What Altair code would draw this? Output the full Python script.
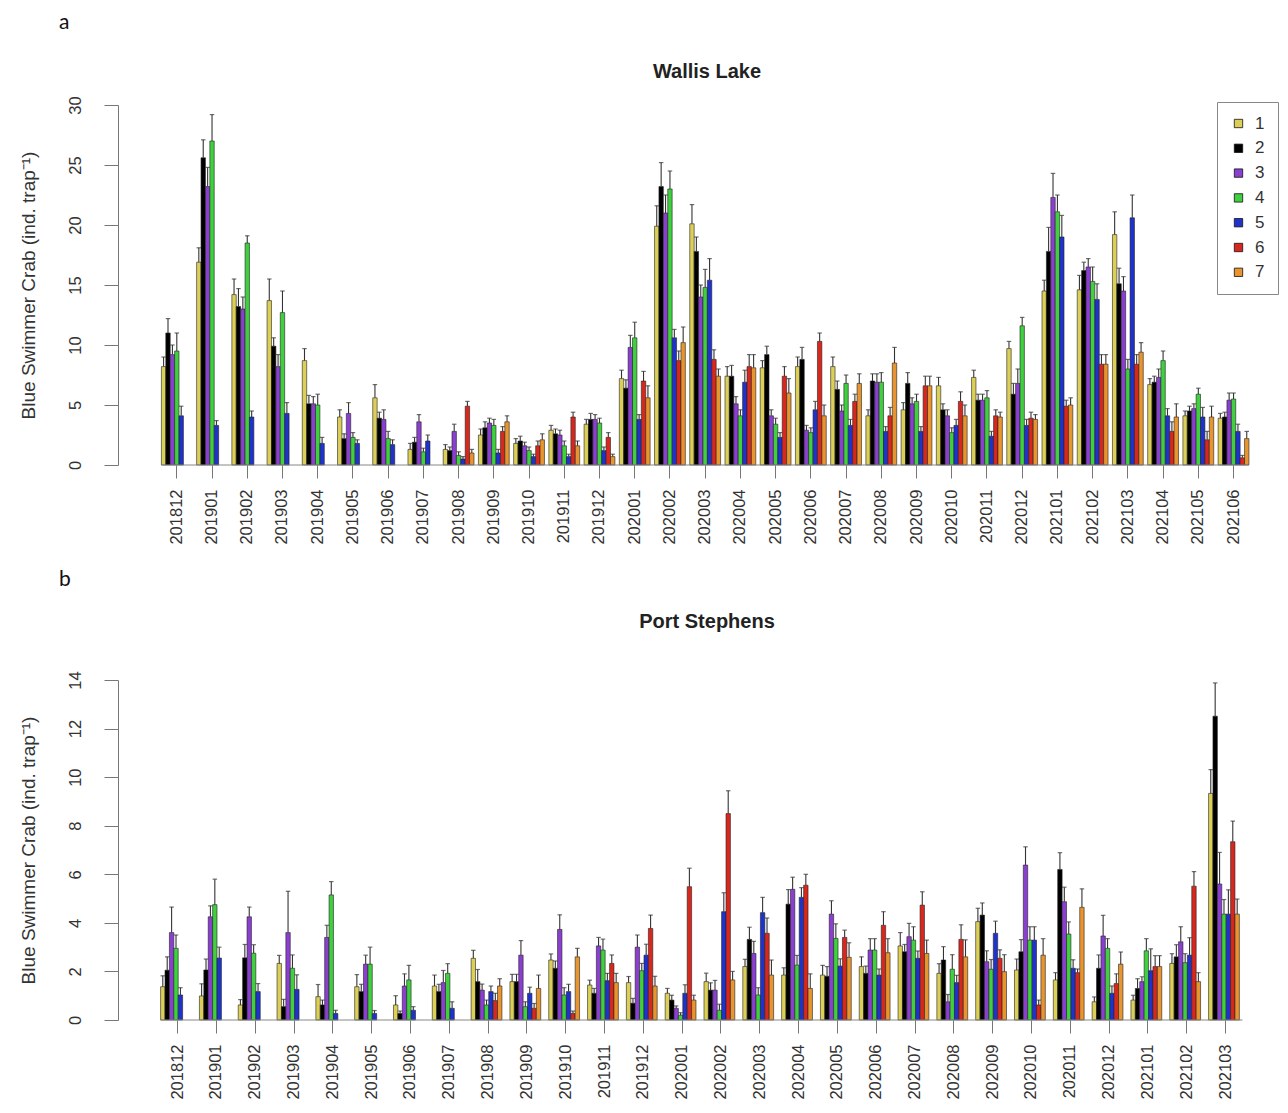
import altair as alt
import pandas as pd

sites = ["1", "2", "3", "4", "5", "6", "7"]
site_colors = ["#DCCF58", "#000000", "#8B3FD0", "#3FCF3F", "#1F33CC", "#D8281E", "#E8952F"]

months_wl = ["201812", "201901", "201902", "201903", "201904", "201905", "201906", "201907",
             "201908", "201909", "201910", "201911", "201912", "202001", "202002", "202003",
             "202004", "202005", "202006", "202007", "202008", "202009", "202010", "202011",
             "202012", "202101", "202102", "202103", "202104", "202105", "202106"]
months_ps = months_wl[:28]

# ---- Wallis Lake: mean catch per site (31 months) ----
wl_s1 = [8.2, 16.9, 14.2, 13.7, 8.7, 4.0, 5.6, 1.3, 1.3, 2.5, 1.8, 2.9, 3.4, 7.2, 19.9, 20.1,
         7.4, 8.1, 8.2, 8.2, 4.1, 4.6, 6.6, 7.3, 9.7, 14.5, 14.6, 19.2, 6.7, 4.1, 3.9]
wl_s2 = [11.0, 25.6, 13.2, 9.9, 5.1, 2.2, 3.9, 1.9, 1.2, 3.1, 2.0, 2.6, 3.8, 6.4, 23.2, 17.8,
         7.4, 9.2, 8.8, 6.3, 7.0, 6.8, 4.6, 5.4, 5.9, 17.8, 16.2, 15.1, 6.9, 4.5, 4.0]
wl_s3 = [9.2, 23.2, 13.0, 8.2, 5.1, 4.3, 3.8, 3.6, 2.8, 3.5, 1.6, 2.5, 3.8, 9.8, 21.0, 14.0,
         5.1, 4.1, 2.9, 4.5, 6.9, 5.1, 4.1, 5.4, 6.8, 22.3, 16.5, 14.5, 7.3, 4.7, 5.4]
wl_s4 = [9.5, 27.0, 18.5, 12.7, 5.0, 2.3, 2.2, 1.1, 0.8, 3.3, 1.2, 1.6, 3.5, 10.6, 23.0, 14.8,
         4.1, 3.4, 2.7, 6.8, 6.9, 5.3, 2.7, 5.6, 11.6, 21.1, 15.3, 8.0, 8.7, 5.9, 5.5]
wl_s5 = [4.1, 3.3, 4.0, 4.3, 1.8, 1.8, 1.7, 2.0, 0.5, 1.0, 0.7, 0.7, 1.2, 3.8, 10.6, 15.4,
         6.9, 2.3, 4.6, 3.3, 2.8, 2.8, 3.3, 2.4, 3.3, 19.0, 13.8, 20.6, 4.1, 4.0, 2.8]
wl_s6 = [None, None, None, None, None, None, None, None, 4.9, 2.8, 1.6, 4.0, 2.3, 7.0, 8.7, 8.8,
         8.2, 7.4, 10.3, 5.3, 4.1, 6.6, 5.3, 4.1, 3.9, 4.9, 8.4, 8.4, 2.8, 2.1, 0.6]
wl_s7 = [None, None, None, None, None, None, None, None, 1.0, 3.6, 2.1, 1.6, 0.7, 5.6, 10.2, 7.4,
         8.1, 6.0, 4.1, 6.8, 8.5, 6.6, 4.1, 4.0, 3.8, 5.0, 8.4, 9.4, 4.0, 4.0, 2.2]

# ---- Wallis Lake: standard errors ----
wl_e1 = [0.8, 1.2, 1.3, 1.8, 1.0, 0.6, 1.1, 0.5, 0.4, 0.5, 0.4, 0.4, 0.4, 0.7, 1.7, 1.6,
         0.8, 0.6, 0.8, 0.8, 0.5, 0.6, 0.7, 0.6, 0.6, 0.9, 1.2, 1.9, 0.5, 0.4, 0.4]
wl_e2 = [1.2, 1.5, 1.5, 0.7, 0.7, 0.4, 0.5, 0.4, 0.3, 0.5, 0.4, 0.4, 0.5, 0.7, 2.0, 1.2,
         0.9, 0.7, 1.0, 0.7, 0.6, 0.9, 0.5, 0.5, 0.9, 2.0, 0.7, 1.3, 0.5, 0.4, 0.4]
wl_e3 = [0.8, 1.6, 1.0, 1.0, 0.6, 0.9, 0.8, 0.6, 0.6, 0.4, 0.3, 0.4, 0.4, 1.0, 1.5, 1.0,
         0.6, 0.5, 0.4, 0.5, 0.7, 0.5, 0.5, 0.5, 1.2, 2.0, 0.7, 1.2, 0.7, 0.4, 0.6]
wl_e4 = [1.5, 2.2, 0.6, 1.8, 0.9, 0.4, 0.6, 0.3, 0.3, 0.5, 0.3, 0.4, 0.4, 1.3, 1.5, 1.5,
         0.5, 0.5, 0.4, 0.7, 0.8, 0.6, 0.4, 0.6, 0.7, 1.4, 1.2, 0.8, 0.8, 0.5, 0.5]
wl_e5 = [0.8, 0.4, 0.5, 0.9, 0.5, 0.3, 0.4, 0.5, 0.2, 0.3, 0.2, 0.2, 0.3, 0.4, 0.7, 1.8,
         1.0, 0.4, 0.7, 0.5, 0.4, 0.4, 0.5, 0.4, 0.5, 1.8, 1.3, 1.9, 0.6, 0.8, 0.6]
wl_e6 = [None, None, None, None, None, None, None, None, 0.4, 0.4, 0.4, 0.4, 0.4, 0.8, 0.8, 0.8,
         1.0, 0.8, 0.7, 0.6, 0.7, 0.8, 0.8, 0.5, 0.5, 0.5, 0.8, 0.8, 0.8, 0.7, 0.2]
wl_e7 = [None, None, None, None, None, None, None, None, 0.3, 0.5, 0.5, 0.4, 0.2, 1.0, 1.3, 0.6,
         1.1, 1.2, 0.9, 0.8, 1.3, 0.8, 0.9, 0.4, 0.4, 0.6, 0.8, 0.8, 1.1, 0.9, 0.6]

# ---- Port Stephens: mean catch per site (28 months) ----
ps_s1 = [1.37, 0.99, 0.62, 2.33, 0.96, 1.37, 0.62, 1.40, 2.54, 1.58, 2.47, 1.44, 1.54, 1.10,
         1.58, 2.20, 1.85, 1.85, 2.20, 3.05, 1.92, 4.05, 2.06, 1.65, 0.75, 0.82, 2.33, 9.33]
ps_s2 = [2.05, 2.06, 2.56, 0.55, 0.62, 1.17, 0.27, 1.17, 1.58, 1.58, 2.13, 1.10, 0.69, 0.82,
         1.23, 3.32, 4.77, 1.80, 1.92, 2.81, 2.47, 4.32, 2.81, 6.20, 2.13, 1.30, 2.60, 12.51]
ps_s3 = [3.60, 4.25, 4.25, 3.60, 3.40, 2.30, 1.40, 1.54, 1.23, 2.67, 3.73, 3.05, 3.00, 0.48,
         1.23, 2.74, 5.38, 4.36, 2.88, 3.43, 0.75, 2.40, 6.38, 4.87, 3.46, 1.58, 3.22, 5.60]
ps_s4 = [2.95, 4.75, 2.75, 2.13, 5.15, 2.30, 1.65, 1.92, 0.62, 0.55, 1.03, 2.88, 2.03, 0.20,
         0.40, 1.03, 2.26, 3.36, 2.88, 3.29, 2.09, 2.09, 3.29, 3.54, 2.95, 2.85, 2.36, 4.36]
ps_s5 = [1.03, 2.55, 1.17, 1.26, 0.27, 0.27, 0.40, 0.48, 1.17, 1.10, 1.17, 1.62, 2.67, 1.10,
         4.46, 4.42, 5.05, 2.22, 1.85, 2.54, 1.54, 3.57, 3.29, 2.13, 1.10, 2.03, 2.67, 4.36]
ps_s6 = [None, None, None, None, None, None, None, None, 0.80, 0.48, 0.27, 2.33, 3.77, 5.49,
         8.50, 3.57, 5.55, 3.40, 3.90, 4.73, 3.32, 2.54, 0.62, 1.95, 1.50, 2.20, 5.51, 7.34]
ps_s7 = [None, None, None, None, None, None, None, None, 1.40, 1.30, 2.60, 1.54, 1.40, 0.82,
         1.65, 1.85, 1.30, 2.58, 2.77, 2.74, 2.60, 1.99, 2.67, 4.64, 2.30, 2.20, 1.58, 4.36]

# ---- Port Stephens: standard errors ----
ps_e1 = [0.45, 0.50, 0.22, 0.33, 0.50, 0.50, 0.38, 0.45, 0.33, 0.30, 0.25, 0.20, 0.25, 0.20,
         0.35, 0.30, 0.30, 0.40, 0.40, 0.55, 0.40, 0.55, 0.45, 0.30, 0.20, 0.20, 0.40, 0.98]
ps_e2 = [0.55, 0.45, 0.55, 0.30, 0.20, 0.30, 0.10, 0.30, 0.50, 0.30, 0.30, 0.20, 0.20, 0.20,
         0.30, 0.50, 0.60, 0.40, 0.30, 0.30, 0.55, 0.50, 0.50, 0.69, 0.55, 0.40, 0.50, 1.37]
ps_e3 = [1.05, 0.45, 0.40, 1.70, 0.50, 0.37, 0.50, 0.50, 0.25, 0.60, 0.60, 0.35, 0.50, 0.10,
         0.40, 0.50, 0.50, 0.55, 0.47, 0.55, 0.30, 0.45, 0.75, 0.60, 0.85, 0.20, 0.62, 1.30]
ps_e4 = [0.55, 1.05, 0.35, 0.55, 0.55, 0.70, 0.60, 0.40, 0.20, 0.20, 0.30, 0.45, 0.30, 0.10,
         0.25, 0.30, 0.40, 0.60, 0.47, 0.55, 0.60, 0.40, 0.55, 0.50, 0.40, 0.50, 0.37, 0.60]
ps_e5 = [0.30, 0.45, 0.33, 0.60, 0.13, 0.12, 0.15, 0.27, 0.23, 0.25, 0.30, 0.30, 0.45, 0.35,
         0.78, 0.63, 0.40, 0.30, 0.25, 0.30, 0.30, 0.50, 0.55, 0.35, 0.30, 0.90, 0.72, 1.00]
ps_e6 = [None, None, None, None, None, None, None, None, 0.30, 0.20, 0.10, 0.35, 0.55, 0.76,
         0.94, 0.63, 0.45, 0.30, 0.56, 0.55, 0.60, 0.35, 0.20, 0.15, 0.40, 0.45, 0.60, 0.85]
ps_e7 = [None, None, None, None, None, None, None, None, 0.30, 0.55, 0.35, 0.38, 0.40, 0.20,
         0.35, 0.62, 0.60, 0.60, 0.58, 0.55, 0.70, 0.70, 0.68, 0.76, 0.50, 0.45, 0.37, 0.62]

Y_TITLE = "Blue Swimmer Crab (ind. trap\u207b\u00b9)"
FONT = "Liberation Sans"
PLOT_W = 1158


def build_df(months, means, errs):
    rows = []
    for site, vals, ses in zip(sites, means, errs):
        for m, v, e in zip(months, vals, ses):
            if v is None:
                continue
            rows.append({"month": m, "site": site, "value": v, "top": v + e})
    return pd.DataFrame(rows)


def panel(months, means, errs, ymax, ystep, height, place, place_y,
          letter, letter_offset, pad_outer, align, show_legend):
    df = build_df(months, means, errs)
    xscale = alt.Scale(domain=months, paddingInner=0.125, paddingOuter=pad_outer, align=align)
    xaxis = alt.Axis(labelAngle=-90, tickSize=13, labelPadding=11, domain=False,
                     labelFontSize=16.5, labelFont=FONT, labelColor="#333",
                     tickColor="#777", tickWidth=1)
    x = alt.X("month:N", sort=months, scale=xscale, axis=xaxis, title=None)
    xo = alt.XOffset("site:N", scale=alt.Scale(domain=sites, paddingInner=0, paddingOuter=0))
    yscale = alt.Scale(domain=[0, ymax], nice=False, zero=True)
    yaxis = alt.Axis(values=list(range(0, ymax + 1, ystep)), tickSize=14, labelPadding=21,
                     labelAngle=-90, labelAlign="center", labelBaseline="bottom",
                     labelFontSize=16.5, labelFont=FONT, labelColor="#333",
                     titleFontSize=19, titleFont=FONT, titleFontWeight="normal",
                     titleColor="#333", titlePadding=29, domainColor="#777",
                     tickColor="#777", grid=False)
    y = alt.Y("value:Q", scale=yscale, axis=yaxis, title=Y_TITLE)

    if show_legend:
        legend = alt.Legend(orient="none", legendX=1099, legendY=-3, title=None,
                            direction="vertical", symbolType="square", symbolSize=70,
                            symbolStrokeColor="#111", symbolStrokeWidth=0.8,
                            labelFontSize=17, labelFont=FONT, labelColor="#333",
                            rowPadding=6.8, padding=13, labelOffset=8,
                            strokeColor="#888", fillColor="white")
    else:
        legend = None
    color = alt.Color("site:N", scale=alt.Scale(domain=sites, range=site_colors),
                      legend=legend)

    base = alt.Chart(df)
    bars = base.mark_bar(stroke="#222", strokeWidth=0.6).encode(
        x=x, xOffset=xo, y=y, color=color)
    err = base.mark_rule(color="#333", strokeWidth=1.1).encode(
        x=x, xOffset=xo, y="value:Q", y2="top:Q")
    cap = base.mark_tick(color="#333", size=4.5, thickness=1.2, orient="horizontal").encode(
        x=x, xOffset=xo, y="top:Q")

    line_df = pd.DataFrame({"month": [months[0]], "month_end": [months[-1]], "value": [0]})
    baseline = alt.Chart(line_df).mark_rule(color="#888", strokeWidth=1).encode(
        x=alt.X("month:N", bandPosition=0, sort=months, scale=xscale, axis=xaxis, title=None),
        x2=alt.X2("month_end:N", bandPosition=1),
        y=alt.Y("value:Q", scale=yscale, axis=yaxis, title=Y_TITLE),
    )

    place_df = pd.DataFrame({"label": [place]})
    place_mark = alt.Chart(place_df).mark_text(
        font=FONT, fontSize=20, fontWeight="bold", align="center", baseline="middle",
        color="#222"
    ).encode(text="label:N", x=alt.value(PLOT_W / 2 + 10), y=alt.value(place_y))

    return alt.layer(bars, baseline, err, cap, place_mark).properties(
        width=PLOT_W, height=height,
        title=alt.TitleParams(letter, fontSize=21, fontWeight="normal", font="Lato",
                              anchor="start", frame="bounds", dx=40,
                              offset=letter_offset, color="#111"),
    )


panel_a = panel(months_wl, [wl_s1, wl_s2, wl_s3, wl_s4, wl_s5, wl_s6, wl_s7],
                [wl_e1, wl_e2, wl_e3, wl_e4, wl_e5, wl_e6, wl_e7],
                30, 5, 360, "Wallis Lake", -33, "a", 29, 1.0, 0.616, True)
panel_b = panel(months_ps, [ps_s1, ps_s2, ps_s3, ps_s4, ps_s5, ps_s6, ps_s7],
                [ps_e1, ps_e2, ps_e3, ps_e4, ps_e5, ps_e6, ps_e7],
                14, 2, 340, "Port Stephens", -58, "b", 22, 0.98, 0.56, False)

chart = alt.vconcat(panel_a, panel_b, spacing=24).properties(
    padding={"left": 10, "top": 4, "right": 0, "bottom": 4}
).configure_view(stroke=None).resolve_scale(color="independent")

chart.save("out.html", embed_options={"renderer": "svg", "actions": False})
